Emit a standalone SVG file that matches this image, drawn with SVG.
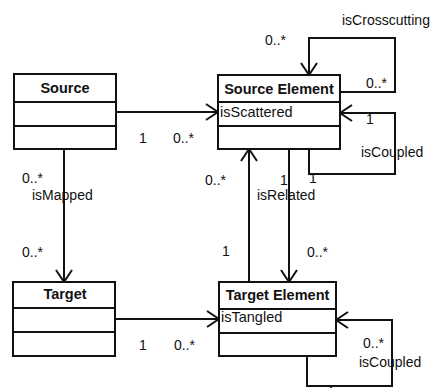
<svg xmlns="http://www.w3.org/2000/svg" width="437" height="388" viewBox="0 0 437 388">
<style>
.box{fill:#fff;stroke:#111;stroke-width:2}
.div{stroke:#111;stroke-width:2}
.ttl{font-family:"Liberation Sans",Arial,sans-serif;font-size:14.5px;font-weight:bold;fill:#111;text-anchor:middle}
.att{font-family:"Liberation Sans",Arial,sans-serif;font-size:14.5px;fill:#111}
.lbl{font-family:"Liberation Sans",Arial,sans-serif;font-size:14px;fill:#111}
.con{fill:none;stroke:#111;stroke-width:2;marker-end:url(#open)}
</style>
<defs>
<marker id="open" viewBox="-14 -10 16 20" refX="0" refY="0" markerWidth="16" markerHeight="20" markerUnits="userSpaceOnUse" orient="auto">
<path d="M-12,-8 L0,0 L-12,8" fill="none" stroke="#111" stroke-width="2"/>
</marker>
</defs>
<rect width="437" height="388" fill="#fff"/>
<g id="connectors">
<path class="con" d="M116,112 H218"/>
<path class="con" d="M64,149 V282"/>
<path class="con" d="M115,319 H219"/>
<path class="con" d="M340,92 H395 V38 H309 V75"/>
<path class="con" d="M309,149 V174 H395 V113 H340"/>
<path class="con" d="M289,149 V282"/>
<path class="con" d="M249,282 V149"/>
<path class="con" d="M307,356 V386 H392 V320 H336"/>
</g>
<g id="labels">
<text class="lbl" x="139" y="143">1</text>
<text class="lbl" x="173" y="143">0..*</text>
<text class="lbl" x="22" y="183">0..*</text>
<text class="lbl" x="32" y="200">isMapped</text>
<text class="lbl" x="22" y="257">0..*</text>
<text class="lbl" x="139" y="350">1</text>
<text class="lbl" x="174" y="350">0..*</text>
<text class="lbl" x="342" y="25">isCrosscutting</text>
<text class="lbl" x="265" y="45">0..*</text>
<text class="lbl" x="366" y="88">0..*</text>
<text class="lbl" x="366" y="124">1</text>
<text class="lbl" x="361" y="157">isCoupled</text>
<text class="lbl" x="309" y="183">1</text>
<text class="lbl" x="205" y="185">0..*</text>
<text class="lbl" x="280" y="185">1</text>
<text class="lbl" x="257" y="200">isRelated</text>
<text class="lbl" x="222" y="256">1</text>
<text class="lbl" x="307" y="257">0..*</text>
<text class="lbl" x="363" y="348">0..*</text>
<text class="lbl" x="359" y="367">isCoupled</text>
<text class="lbl" x="327" y="397">1</text>
</g>
<g id="source">
<rect class="box" x="14" y="74" width="102" height="75"/>
<line class="div" x1="14" y1="102" x2="116" y2="102"/>
<line class="div" x1="14" y1="126" x2="116" y2="126"/>
<text class="ttl" x="65" y="93">Source</text>
</g>
<g id="source-element">
<rect class="box" x="218" y="75" width="122" height="74"/>
<line class="div" x1="218" y1="102" x2="340" y2="102"/>
<line class="div" x1="218" y1="126" x2="340" y2="126"/>
<text class="ttl" x="279" y="94">Source Element</text>
<text class="att" x="220" y="117">isScattered</text>
</g>
<g id="target">
<rect class="box" x="13" y="282" width="102" height="74"/>
<line class="div" x1="13" y1="308" x2="115" y2="308"/>
<line class="div" x1="13" y1="332" x2="115" y2="332"/>
<text class="ttl" x="65" y="299">Target</text>
</g>
<g id="target-element">
<rect class="box" x="219" y="282" width="117" height="74"/>
<line class="div" x1="219" y1="309" x2="336" y2="309"/>
<line class="div" x1="219" y1="333" x2="336" y2="333"/>
<text class="ttl" x="277.5" y="300">Target Element</text>
<text class="att" x="221" y="322">isTangled</text>
</g>
</svg>
